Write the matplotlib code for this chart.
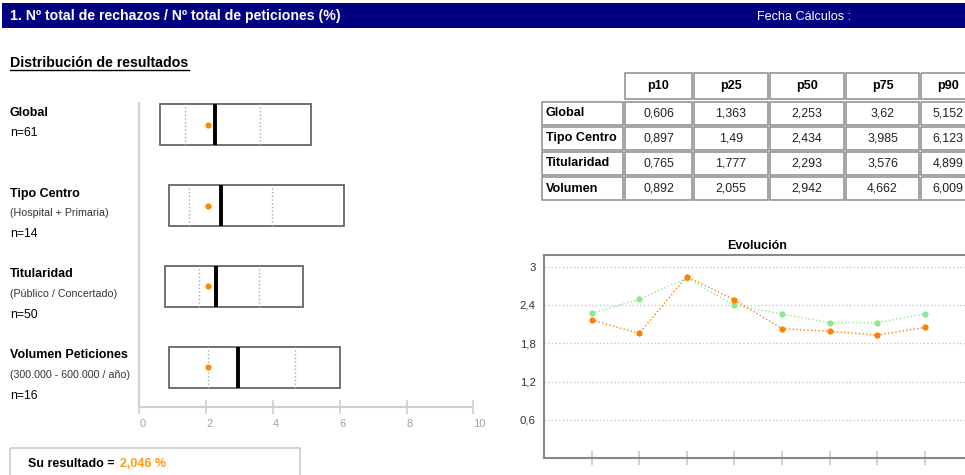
import matplotlib
matplotlib.use("Agg")
import matplotlib.pyplot as plt
from matplotlib.patches import Rectangle
import matplotlib.transforms as mtransforms

plt.rcParams['font.family'] = ['Liberation Sans', 'DejaVu Sans']

# datos
grupos = ['Global', 'Tipo Centro', 'Titularidad', 'Volumen Peticiones']
subtitulos = ['', '(Hospital + Primaria)', '(Público / Concertado)', '(300.000 - 600.000 / año)']
n_valores = [61, 14, 50, 16]
p10 = [0.606, 0.897, 0.765, 0.892]
p25 = [1.363, 1.49, 1.777, 2.055]
p50 = [2.253, 2.434, 2.293, 2.942]
p75 = [3.62, 3.985, 3.576, 4.662]
p90 = [5.152, 6.123, 4.899, 6.009]
su_resultado = 2.046

filas_tabla = ['Global', 'Tipo Centro', 'Titularidad', 'Volumen']
percentiles = ['p10', 'p25', 'p50', 'p75', 'p90']

evol_periodos = [1, 2, 3, 4, 5, 6, 7, 8]
evol_grupo = [2.268, 2.488, 2.817, 2.393, 2.258, 2.122, 2.122, 2.258]
evol_centro = [2.163, 1.954, 2.843, 2.477, 2.027, 1.986, 1.928, 2.046]

NARANJA = '#FF8C00'
VERDE = '#8FE88F'
W, H = 965, 475


def fmt(v):
    return str(v).replace('.', ',')


def rect_px(x0, y0, x1, y1):
    # pixeles (origen arriba-izquierda) -> fraccion de figura
    return [x0 / W, 1 - y1 / H, (x1 - x0) / W, (y1 - y0) / H]


fig = plt.figure(figsize=(9.65, 4.75), dpi=100)

# lienzo en pixeles para cabecera, tabla y recuadro
lienzo = fig.add_axes([0, 0, 1, 1])
lienzo.set_xlim(0, W)
lienzo.set_ylim(H, 0)
lienzo.axis('off')

lienzo.add_patch(Rectangle((2, 3), W - 2, 25, color='#000080', lw=0))
lienzo.text(10, 16, '1. Nº total de rechazos / Nº total de peticiones (%)', color='white',
            fontsize=10.2, fontweight='bold', va='center')
lienzo.text(757, 17, 'Fecha Cálculos :', color='white', fontsize=9.1, va='center')
lienzo.text(10, 63, 'Distribución de resultados', fontsize=10.2, fontweight='bold', va='center')
lienzo.plot([10, 189], [70, 70], color='black', lw=1)

# recuadro del resultado
lienzo.add_patch(Rectangle((10, 447.5), 290, 40, fill=False, edgecolor='#cccccc', lw=1.2))
lienzo.text(28, 464, 'Su resultado =', fontsize=9, fontweight='bold', va='center')
lienzo.text(120, 464, fmt(su_resultado) + ' %', fontsize=9, fontweight='bold',
            color='#FF9A1A', va='center')

# tabla de percentiles
col_izq = [542, 625, 694, 770, 846, 921]
col_anc = [81, 67, 74, 74, 73, 54]
borde = '#8c8c8c'
for j, p in enumerate(percentiles):
    x = col_izq[j + 1]
    lienzo.add_patch(Rectangle((x, 73), col_anc[j + 1] + 30 * (j == 4), 26, fill=False,
                               edgecolor=borde, lw=1.1))
    lienzo.text(x + col_anc[j + 1] / 2, 86, p, ha='center', va='center',
                fontsize=9.1, fontweight='bold')
tabla = [p10, p25, p50, p75, p90]
for i, fila in enumerate(filas_tabla):
    y = 101.5 + i * 25
    lienzo.add_patch(Rectangle((col_izq[0], y), col_anc[0], 23.5, fill=False, edgecolor=borde, lw=1.1))
    lienzo.text(col_izq[0] + 4, y + 12, fila, va='center', fontsize=9.1, fontweight='bold')
    for j in range(len(percentiles)):
        x = col_izq[j + 1]
        lienzo.add_patch(Rectangle((x, y), col_anc[j + 1] + 30 * (j == 4), 23.5, fill=False,
                                   edgecolor=borde, lw=1.1))
        lienzo.text(x + col_anc[j + 1] / 2, y + 12, fmt(tabla[j][i]), ha='center', va='center',
                    fontsize=8.9, color='#222222')

# distribucion (cajas p10-p90)
ax = fig.add_axes(rect_px(139.3, 103, 473.3, 406.7))
ax.set_xlim(0, 10)
ax.set_ylim(-0.49, 3.27)
alto = 0.505
ys = [3, 2, 1, 0]
for i, y in enumerate(ys):
    ax.add_patch(Rectangle((p10[i], y - alto / 2), p90[i] - p10[i], alto,
                           facecolor='white', edgecolor='#666666', lw=1.3, zorder=2))
    ax.vlines([p25[i], p75[i]], y - alto / 2, y + alto / 2, colors='#aaaaaa',
              linestyles=':', lw=1, zorder=3)
    ax.vlines(p50[i], y - alto / 2, y + alto / 2, colors='black', lw=2.8, zorder=4)
    ax.plot(su_resultado, y, 'o', color=NARANJA, ms=4.5, mec='none', zorder=5)

for s in ['top', 'right']:
    ax.spines[s].set_visible(False)
for s in ['left', 'bottom']:
    ax.spines[s].set_color('#d0d0d0')
    ax.spines[s].set_linewidth(1.5)
ax.set_yticks([])
ax.set_xticks([0, 2, 4, 6, 8, 10])
ax.tick_params(axis='x', direction='inout', length=10, width=1.2, color='#d0d0d0',
               labelcolor='#a0a0a0', labelsize=8, pad=4)
for lab in ax.get_xticklabels():
    lab.set_horizontalalignment('left')

# etiquetas de cada grupo
trans = mtransforms.blended_transform_factory(fig.transFigure, ax.transData)
for i, y in enumerate(ys):
    def etiqueta(dy_px, texto, **kw):
        t = mtransforms.offset_copy(trans, fig=fig, x=0, y=-dy_px * 0.72, units='points')
        ax.text(10 / W, y, texto, transform=t, va='center', clip_on=False, **kw)
    etiqueta(-12, grupos[i], fontsize=9, fontweight='bold')
    if subtitulos[i]:
        etiqueta(7.5, subtitulos[i], fontsize=7.7, color='#333333')
        etiqueta(28.5, 'n=%d' % n_valores[i], fontsize=8.8)
    else:
        etiqueta(8, 'n=%d' % n_valores[i], fontsize=8.8)

# evolucion
ax2 = fig.add_axes(rect_px(544, 255, 544 + 9.5 * 47.6, 458.3))
ax2.set_xlim(0, 9.5)
ax2.set_ylim(0, 3.18)
ax2.plot(evol_periodos, evol_grupo, color=VERDE, ls=':', lw=1, marker='o', ms=4.5,
         mec='none', zorder=3)
ax2.plot(evol_periodos, evol_centro, color='#FF8000', ls=':', lw=1, marker='o', ms=4.5,
         mec='none', zorder=4)
ax2.set_yticks([0.6, 1.2, 1.8, 2.4, 3])
ax2.set_yticklabels(['0,6', '1,2', '1,8', '2,4', '3'])
ax2.grid(axis='y', color='#c8c8c8', ls=':', lw=1)
ax2.set_xticks(evol_periodos)
ax2.set_xticklabels([])
ax2.tick_params(axis='x', direction='inout', length=10, width=1.2, color='#c8c8c8')
ax2.tick_params(axis='y', length=0, labelsize=8.2, labelcolor='#333333', pad=6)
ax2.spines['right'].set_visible(False)
for s in ['left', 'bottom', 'top']:
    ax2.spines[s].set_color('#888888')
    ax2.spines[s].set_linewidth(1.5)
ax2.set_title('Evolución', fontsize=9, fontweight='bold', pad=4,
              x=(757 - 544) / (9.5 * 47.6))

fig.savefig('out.png', dpi=100)
